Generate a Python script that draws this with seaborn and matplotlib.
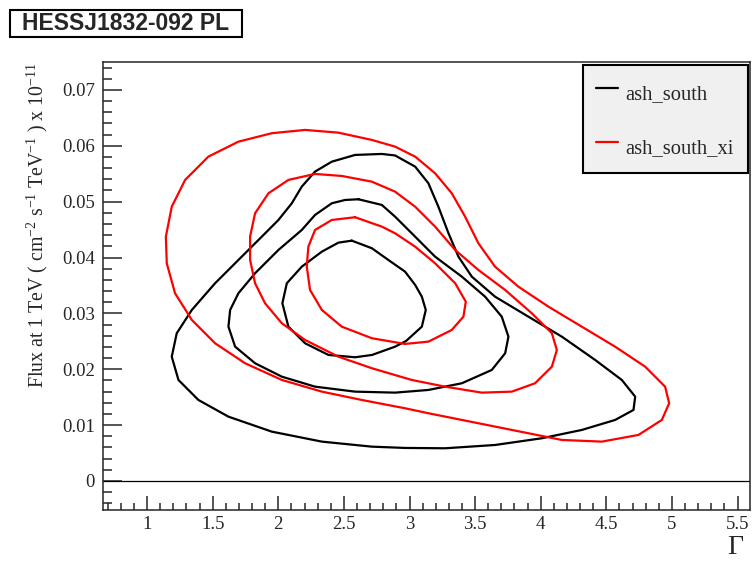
import numpy as np
import pandas as pd
import seaborn as sns
import matplotlib.pyplot as plt
from matplotlib.lines import Line2D
from matplotlib.patches import Rectangle
from matplotlib.ticker import MultipleLocator, FuncFormatter

# contour points: photon index and flux (x 1e-11), going round each curve
south_1_gamma = [2.560, 2.713, 2.839, 2.966, 3.043, 3.094, 3.124, 3.094, 2.974, 2.890, 2.715, 2.585, 2.382,
                 2.204, 2.077, 2.031, 2.065, 2.179, 2.332, 2.458]
south_1_flux = [0.04302, 0.04166, 0.03956, 0.03747, 0.03509, 0.03299, 0.03061, 0.02762, 0.02506, 0.02404,
                0.02256, 0.02214, 0.02256, 0.02465, 0.02762, 0.03181, 0.03539, 0.03836, 0.04105, 0.04266]

south_2_gamma = [2.611, 2.789, 2.890, 3.043, 3.195, 3.399, 3.576, 3.703, 3.754, 3.729, 3.627, 3.399, 3.144,
                 2.890, 2.585, 2.280, 2.027, 1.823, 1.671, 1.620, 1.633, 1.696, 1.823, 2.001, 2.179, 2.280,
                 2.408, 2.509]
south_2_flux = [0.05043, 0.04941, 0.04731, 0.04373, 0.04015, 0.03657, 0.03299, 0.02941, 0.02583, 0.02286,
                0.01987, 0.01749, 0.01629, 0.01581, 0.01599, 0.01688, 0.01867, 0.02107, 0.02404, 0.02762,
                0.03061, 0.03360, 0.03718, 0.04135, 0.04493, 0.04762, 0.04971, 0.05030]

south_3_gamma = [2.585, 2.789, 2.890, 3.043, 3.144, 3.220, 3.297, 3.373, 3.475, 3.652, 3.906, 4.161, 4.415,
                 4.618, 4.720, 4.707, 4.567, 4.313, 4.008, 3.652, 3.271, 2.966, 2.713, 2.332, 1.950, 1.620,
                 1.391, 1.239, 1.188, 1.226, 1.341, 1.518, 1.696, 1.874, 2.001, 2.103, 2.179, 2.280, 2.408]
south_3_flux = [0.05836, 0.05854, 0.05827, 0.05627, 0.05329, 0.04910, 0.04434, 0.04015, 0.03657, 0.03299,
                0.02941, 0.02583, 0.02166, 0.01808, 0.01509, 0.01271, 0.01092, 0.00913, 0.00764, 0.00644,
                0.00585, 0.00591, 0.00614, 0.00704, 0.00883, 0.01151, 0.01450, 0.01808, 0.02225, 0.02644,
                0.03061, 0.03539, 0.03956, 0.04373, 0.04672, 0.04971, 0.05269, 0.05538, 0.05716]

xi_1_gamma = [2.585, 2.789, 2.890, 3.043, 3.195, 3.348, 3.429, 3.411, 3.322, 3.144, 2.966, 2.713, 2.484,
              2.332, 2.242, 2.217, 2.229, 2.280, 2.408]
xi_1_flux = [0.04721, 0.04553, 0.04434, 0.04194, 0.03897, 0.03539, 0.03210, 0.02941, 0.02703, 0.02494,
             0.02453, 0.02555, 0.02762, 0.03061, 0.03419, 0.03836, 0.04194, 0.04493, 0.04672]

xi_2_gamma = [2.280, 2.484, 2.713, 2.890, 3.043, 3.195, 3.348, 3.525, 3.729, 3.932, 4.085, 4.123, 4.085,
              3.957, 3.780, 3.551, 3.271, 3.017, 2.713, 2.458, 2.204, 2.027, 1.899, 1.823, 1.785, 1.785,
              1.823, 1.925, 2.077]
xi_2_flux = [0.05496, 0.05460, 0.05358, 0.05179, 0.04910, 0.04553, 0.04135, 0.03777, 0.03419, 0.03002,
             0.02644, 0.02345, 0.02046, 0.01749, 0.01599, 0.01581, 0.01688, 0.01808, 0.02018, 0.02225,
             0.02524, 0.02823, 0.03181, 0.03539, 0.03956, 0.04373, 0.04792, 0.05150, 0.05389]

xi_3_gamma = [2.204, 2.458, 2.713, 2.890, 3.043, 3.195, 3.322, 3.424, 3.525, 3.652, 3.830, 4.059, 4.313,
              4.567, 4.796, 4.948, 4.979, 4.923, 4.745, 4.466, 4.161, 3.906, 3.525, 3.144, 2.966, 2.636,
              2.332, 2.027, 1.747, 1.518, 1.341, 1.213, 1.150, 1.143, 1.188, 1.290, 1.467, 1.696, 1.950]
xi_3_flux = [0.06284, 0.06235, 0.06105, 0.05985, 0.05806, 0.05508, 0.05150, 0.04731, 0.04255, 0.03836,
             0.03478, 0.03120, 0.02762, 0.02404, 0.02046, 0.01688, 0.01391, 0.01092, 0.00824, 0.00704,
             0.00734, 0.00854, 0.01033, 0.01212, 0.01301, 0.01450, 0.01599, 0.01808, 0.02107, 0.02465,
             0.02882, 0.03360, 0.03897, 0.04373, 0.04910, 0.05389, 0.05806, 0.06074, 0.06225]

datasets = ["ash_south", "ash_south_xi"]
colors = {"ash_south": "black", "ash_south_xi": "red"}

contours = [
    ("ash_south", 1, south_1_gamma, south_1_flux),
    ("ash_south", 2, south_2_gamma, south_2_flux),
    ("ash_south", 3, south_3_gamma, south_3_flux),
    ("ash_south_xi", 1, xi_1_gamma, xi_1_flux),
    ("ash_south_xi", 2, xi_2_gamma, xi_2_flux),
    ("ash_south_xi", 3, xi_3_gamma, xi_3_flux),
]

parts = []
for name, level, g, f in contours:
    # close the curve
    g = list(g) + [g[0]]
    f = list(f) + [f[0]]
    parts.append(pd.DataFrame({"gamma": g, "flux": f, "dataset": name,
                               "contour": f"{name}_{level}"}))
df = pd.concat(parts, ignore_index=True)

sns.set_style("ticks")
plt.rcParams["font.family"] = ["Liberation Serif", "DejaVu Serif"]
plt.rcParams["mathtext.fontset"] = "custom"
plt.rcParams["mathtext.rm"] = "Liberation Serif"
plt.rcParams["mathtext.it"] = "Liberation Serif:italic"

fig = plt.figure(figsize=(7.52, 5.61), dpi=100)
ax = fig.add_axes([103 / 752, 51 / 561, 647 / 752, 448 / 561])

sns.lineplot(data=df, x="gamma", y="flux", hue="dataset", units="contour",
             estimator=None, sort=False, palette=colors, linewidth=1.6,
             solid_joinstyle="round", legend=False, ax=ax)
ax.axhline(0, color="black", lw=0.9)

ax.set_xlim(0.664, 5.595)
ax.set_ylim(-0.0052, 0.0750)

ax.xaxis.set_major_locator(MultipleLocator(0.5))
ax.xaxis.set_minor_locator(MultipleLocator(0.1))
ax.yaxis.set_major_locator(MultipleLocator(0.01))
ax.yaxis.set_minor_locator(MultipleLocator(0.002))
fmt = FuncFormatter(lambda v, p: f"{round(v, 4):g}")
ax.xaxis.set_major_formatter(fmt)
ax.yaxis.set_major_formatter(fmt)

ax.tick_params(axis="x", which="major", direction="in", length=10, width=1.1, labelsize=13.5, pad=4)
ax.tick_params(axis="x", which="minor", direction="in", length=5, width=1.1)
ax.tick_params(axis="y", which="major", direction="in", length=13.5, width=1.1, labelsize=13.5, pad=6)
ax.tick_params(axis="y", which="minor", direction="in", length=6.8, width=1.1)
ax.tick_params(top=False, right=False, which="both")
for s in ax.spines.values():
    s.set_linewidth(1.1)

ax.set_xlabel("Γ", fontsize=20, loc="right", labelpad=0)
ax.xaxis.set_label_coords(0.99, -0.056)
ax.set_ylabel(r"Flux at 1 TeV ( cm$^{-2}$ s$^{-1}$ TeV$^{-1}$ ) x 10$^{-11}$",
              fontsize=14.3, loc="top")
ax.yaxis.set_label_coords(-0.082, 1.0)

handles = [Line2D([], [], color=colors[d], lw=1.6) for d in datasets]
leg = ax.legend(handles, datasets, loc="upper left", mode="expand",
                bbox_to_anchor=(480 / 647, 0.754, 165 / 647, 0.239),
                borderaxespad=0, fontsize=14.8, frameon=True, fancybox=False,
                framealpha=1, facecolor="#f0f0f0", edgecolor="black",
                borderpad=0.62, labelspacing=1.26, handleheight=1.74,
                handlelength=1.06, handletextpad=0.39)
leg.get_frame().set_linewidth(1.5)

# title box top left
fig.patches.append(Rectangle((10 / 752, 1 - 37 / 561), 232 / 752, 27 / 561,
                             transform=fig.transFigure, facecolor="white",
                             edgecolor="black", lw=1.5))
fig.text(22 / 752, 1 - 23.5 / 561, "HESSJ1832-092 PL", ha="left", va="center",
         fontsize=16.5, fontweight="bold", family=["Liberation Sans", "DejaVu Sans"])

fig.savefig("out.png", dpi=100)
